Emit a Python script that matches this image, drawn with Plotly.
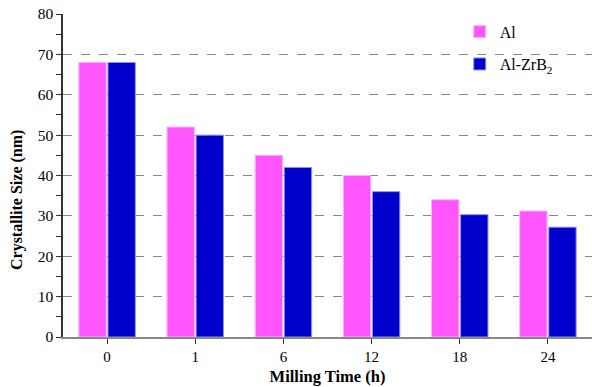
import plotly.graph_objects as go

categories = ["0", "1", "6", "12", "18", "24"]
al_values = [68, 52, 45, 40, 34, 31.2]
alzrb2_values = [68, 50, 42, 36, 30.3, 27.2]
y_ticks = [0, 10, 20, 30, 40, 50, 60, 70, 80]

font_family = "Liberation Serif, Times New Roman, serif"

fig = go.Figure()
fig.add_trace(go.Bar(
    x=categories, y=al_values, name="Al",
    marker=dict(color="#FF55FF", line=dict(color="#FFB0FF", width=1)),
    legend="legend", showlegend=True,
))
fig.add_trace(go.Bar(
    x=categories, y=alzrb2_values, name="Al-ZrB<sub>2</sub>",
    marker=dict(color="#0000CC", line=dict(color="#9090E8", width=1)),
    legend="legend2", showlegend=True,
))

legend_common = dict(
    font=dict(family=font_family, size=16, color="black"),
    bgcolor="rgba(0,0,0,0)", xanchor="left", yanchor="middle",
    itemwidth=30,
)

fig.update_layout(
    width=592, height=387,
    margin=dict(l=63, r=0, t=14, b=50),
    paper_bgcolor="white", plot_bgcolor="white",
    showlegend=True,
    barmode="group", bargap=0.34, bargroupgap=0.06,
    font=dict(family=font_family, size=15, color="black"),
    legend=dict(x=0.75, y=0.945, **legend_common),
    legend2=dict(x=0.75, y=0.845, **legend_common),
    xaxis=dict(
        type="category",
        title=dict(text="<b>Milling Time (h)</b>", font=dict(size=16.5), standoff=6),
        showline=True, linecolor="#888888", linewidth=2,
        ticks="outside", ticklen=5, tickcolor="#333333",
        showgrid=False, tickfont=dict(size=15),
    ),
    yaxis=dict(
        range=[0, 80], tickvals=y_ticks,
        showline=True, linecolor="#333333", linewidth=1.5,
        ticks="outside", ticklen=5, tickcolor="#333333",
        minor=dict(dtick=5, ticks="outside", ticklen=5, tickcolor="#333333", showgrid=False),
        showgrid=True, gridcolor="#888888", griddash="dash", gridwidth=1,
        tickfont=dict(size=15.5), zeroline=False,
    ),
    annotations=[dict(
        text="<b>Crystallite Size (nm)</b>", textangle=-90,
        xref="paper", yref="paper", x=-0.087, y=0.424,
        xanchor="center", yanchor="middle", showarrow=False,
        font=dict(family=font_family, size=16, color="black"),
    )],
)

fig.write_html("out.html")
